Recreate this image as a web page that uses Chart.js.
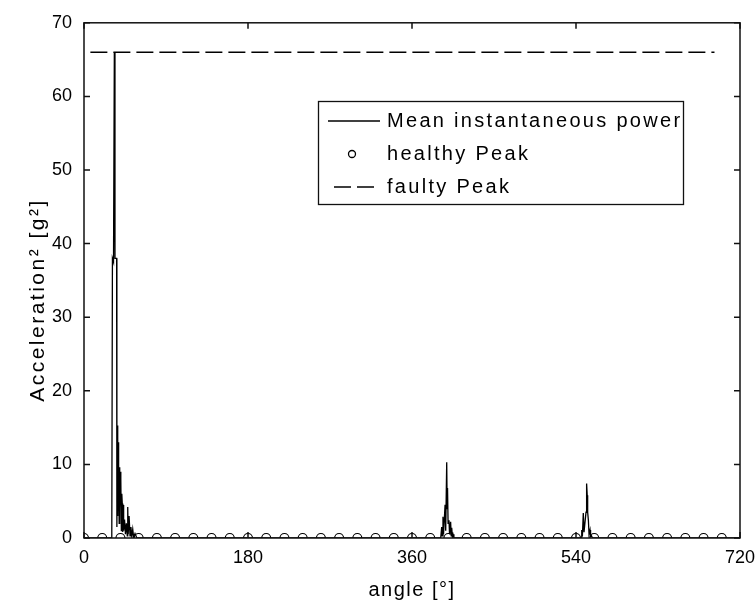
<!DOCTYPE html>
<html lang="en">
<head>
<meta charset="UTF-8">
<title>Mean instantaneous power</title>
<script src="https://cdn.jsdelivr.net/npm/chart.js"></script>
<style>
  html, body { margin: 0; padding: 0; background: #fff; }
</style>
</head>
<body>
<canvas id="myChart" width="756" height="603"></canvas>
<script>
// mean instantaneous power (angle in degrees)
const angles = [0, 30.5, 31.2, 32.4, 33.3, 34.0, 35.8, 36.1, 36.6, 37.0, 37.4, 37.8, 38.2, 38.6, 39.0, 39.4,
  39.8, 40.2, 40.6, 41.0, 41.5, 42.0, 42.5, 43.0, 43.5, 44.5, 45.5, 46.5, 47.5, 48.0, 48.5, 49.5, 50.5,
  51.5, 52.5, 53.5, 54.5, 56, 58,
  391.5, 392.6, 393.2, 394.0, 394.6, 396.3, 397.0, 398.1, 398.6, 399.0, 399.6, 400.6, 401.2, 402.4, 403.0,
  403.6, 404.3, 405, 406,
  545.5, 546.3, 547.0, 548.0, 548.8, 551.0, 551.5, 551.8, 552.3, 552.8, 553.6, 554.3, 555.4, 556, 557, 558,
  720];
const power = [0, 0, 38, 37.5, 66, 38, 38, 1.5, 15.3, 3, 13, 5, 10, 2, 9.6, 4,
  9, 4.7, 8, 1, 6, 4.7, 0.8, 4.5, 1, 2.5, 0.5, 2, 0.3, 4.2, 0.5, 3, 0.3,
  1.5, 0.2, 1.2, 0.1, 0.6, 0,
  0, 1.5, 0.3, 2.9, 0.5, 4.5, 1, 10.3, 4, 6.8, 2, 2.4, 0.5, 2.2, 0.3,
  1.4, 0.2, 0.5, 0,
  0, 1.1, 0.2, 3.4, 0.8, 3.5, 6, 7.4, 5.8, 3.5, 2.4, 0.5, 1.1, 0.2, 0.3, 0,
  0];

const healthyAngles = [0, 20, 40, 60, 80, 100, 120, 140, 160, 180, 200, 220, 240, 260, 280, 300, 320, 340,
  360, 380, 400, 420, 440, 460, 480, 500, 520, 540, 560, 580, 600, 620, 640, 660, 680, 700];
const healthyPeak = [0, 0, 0, 0, 0, 0, 0, 0, 0, 0, 0, 0, 0, 0, 0, 0, 0, 0,
  0, 0, 0, 0, 0, 0, 0, 0, 0, 0, 0, 0, 0, 0, 0, 0, 0, 0];

const faultyAngles = [7, 692];
const faultyPeak = [66, 66];

const xTicks = [0, 180, 360, 540, 720];
const yTicks = [0, 10, 20, 30, 40, 50, 60, 70];

const legendLabels = ['Mean instantaneous power', 'healthy Peak', 'faulty Peak'];
const xTitle = 'angle [°]';
const yTitle = 'Acceleration² [g²]';

const FONT = '"Liberation Sans", Arial, Helvetica, sans-serif';
const pts = (xs, ys) => xs.map((v, i) => ({ x: v, y: ys[i] }));

// MATLAB style frame: box, inward ticks, axis titles, legend inside the axes
const matlabFrame = {
  id: 'matlabFrame',
  beforeInit(chart) {
    chart.ctx.letterSpacing = '1px';
  },
  afterDatasetsDraw(chart) {
    const { ctx, chartArea: a, scales: { x, y } } = chart;
    ctx.save();
    ctx.strokeStyle = '#111';
    ctx.lineWidth = 1.5;
    ctx.setLineDash([]);
    ctx.strokeRect(a.left, a.top, a.right - a.left, a.bottom - a.top);
    const len = 6;
    ctx.beginPath();
    x.ticks.forEach(t => {
      const px = x.getPixelForValue(t.value);
      ctx.moveTo(px, a.bottom); ctx.lineTo(px, a.bottom - len);
      ctx.moveTo(px, a.top); ctx.lineTo(px, a.top + len);
    });
    y.ticks.forEach(t => {
      const py = y.getPixelForValue(t.value);
      ctx.moveTo(a.left, py); ctx.lineTo(a.left + len, py);
      ctx.moveTo(a.right, py); ctx.lineTo(a.right - len, py);
    });
    ctx.stroke();

    // axis titles
    ctx.fillStyle = '#000';
    ctx.textAlign = 'center';
    ctx.textBaseline = 'middle';
    ctx.font = '20px ' + FONT;
    ctx.letterSpacing = '1.5px';
    ctx.fillText(xTitle, (a.left + a.right) / 2, 590);
    ctx.save();
    ctx.translate(38, 300);
    ctx.rotate(-Math.PI / 2);
    ctx.font = '21px ' + FONT;
    ctx.letterSpacing = '2.5px';
    ctx.fillText(yTitle, 0, 0);
    ctx.restore();

    // legend
    const bx = 318.5, by = 101.5, bw = 365, bh = 103;
    ctx.fillStyle = '#fff';
    ctx.fillRect(bx, by, bw, bh);
    ctx.lineWidth = 1.3;
    ctx.strokeRect(bx, by, bw, bh);
    const rows = [121, 154, 187];
    ctx.strokeStyle = '#000';
    ctx.lineWidth = 1.3;
    ctx.beginPath();
    ctx.moveTo(328, rows[0]); ctx.lineTo(380, rows[0]);
    ctx.stroke();
    ctx.beginPath();
    ctx.arc(352, rows[1], 3.5, 0, Math.PI * 2);
    ctx.stroke();
    ctx.setLineDash([17, 6]);
    ctx.beginPath();
    ctx.moveTo(334, rows[2]); ctx.lineTo(374, rows[2]);
    ctx.stroke();
    ctx.setLineDash([]);
    ctx.fillStyle = '#000';
    ctx.font = '20px ' + FONT;
    ctx.letterSpacing = '2.3px';
    ctx.textBaseline = 'middle';
    ctx.textAlign = 'left';
    legendLabels.forEach((s, i) => ctx.fillText(s, 387, rows[i]));
    ctx.restore();
  }
};

const ctx = document.getElementById('myChart').getContext('2d');
const chart = new Chart(ctx, {
  type: 'line',
  data: {
    datasets: [
      {
        label: legendLabels[0],
        data: pts(angles, power),
        borderColor: '#000',
        borderWidth: 1.3,
        pointRadius: 0,
        tension: 0
      },
      {
        label: legendLabels[1],
        data: pts(healthyAngles, healthyPeak),
        showLine: false,
        pointStyle: 'circle',
        pointRadius: 4.5,
        pointBorderWidth: 1.2,
        pointBorderColor: '#000',
        pointBackgroundColor: 'rgba(0,0,0,0)'
      },
      {
        label: legendLabels[2],
        data: pts(faultyAngles, faultyPeak),
        borderColor: '#000',
        borderWidth: 1.3,
        borderDash: [17, 6],
        pointRadius: 0
      }
    ]
  },
  options: {
    responsive: false,
    animation: false,
    devicePixelRatio: 1,
    layout: { padding: { left: 0, right: 16, top: 22, bottom: 0 } },
    plugins: {
      legend: { display: false },
      tooltip: { enabled: false }
    },
    scales: {
      x: {
        type: 'linear',
        min: 0,
        max: 720,
        afterBuildTicks: s => { s.ticks = xTicks.map(v => ({ value: v })); },
        afterFit: s => { s.height = 65; s.paddingLeft = 0; s.paddingRight = 0; },
        grid: { display: false, drawTicks: false },
        border: { display: false },
        ticks: { color: '#000', font: { family: FONT, size: 18 }, padding: 9, maxRotation: 0 },
        title: { display: false }
      },
      y: {
        min: 0,
        max: 70,
        afterBuildTicks: s => { s.ticks = yTicks.map(v => ({ value: v })); },
        afterFit: s => { s.width = 84; },
        grid: { display: false, drawTicks: false },
        border: { display: false },
        ticks: { color: '#000', font: { family: FONT, size: 18 }, padding: 12 },
        title: { display: false }
      }
    }
  },
  plugins: [matlabFrame]
});
</script>
</body>
</html>
